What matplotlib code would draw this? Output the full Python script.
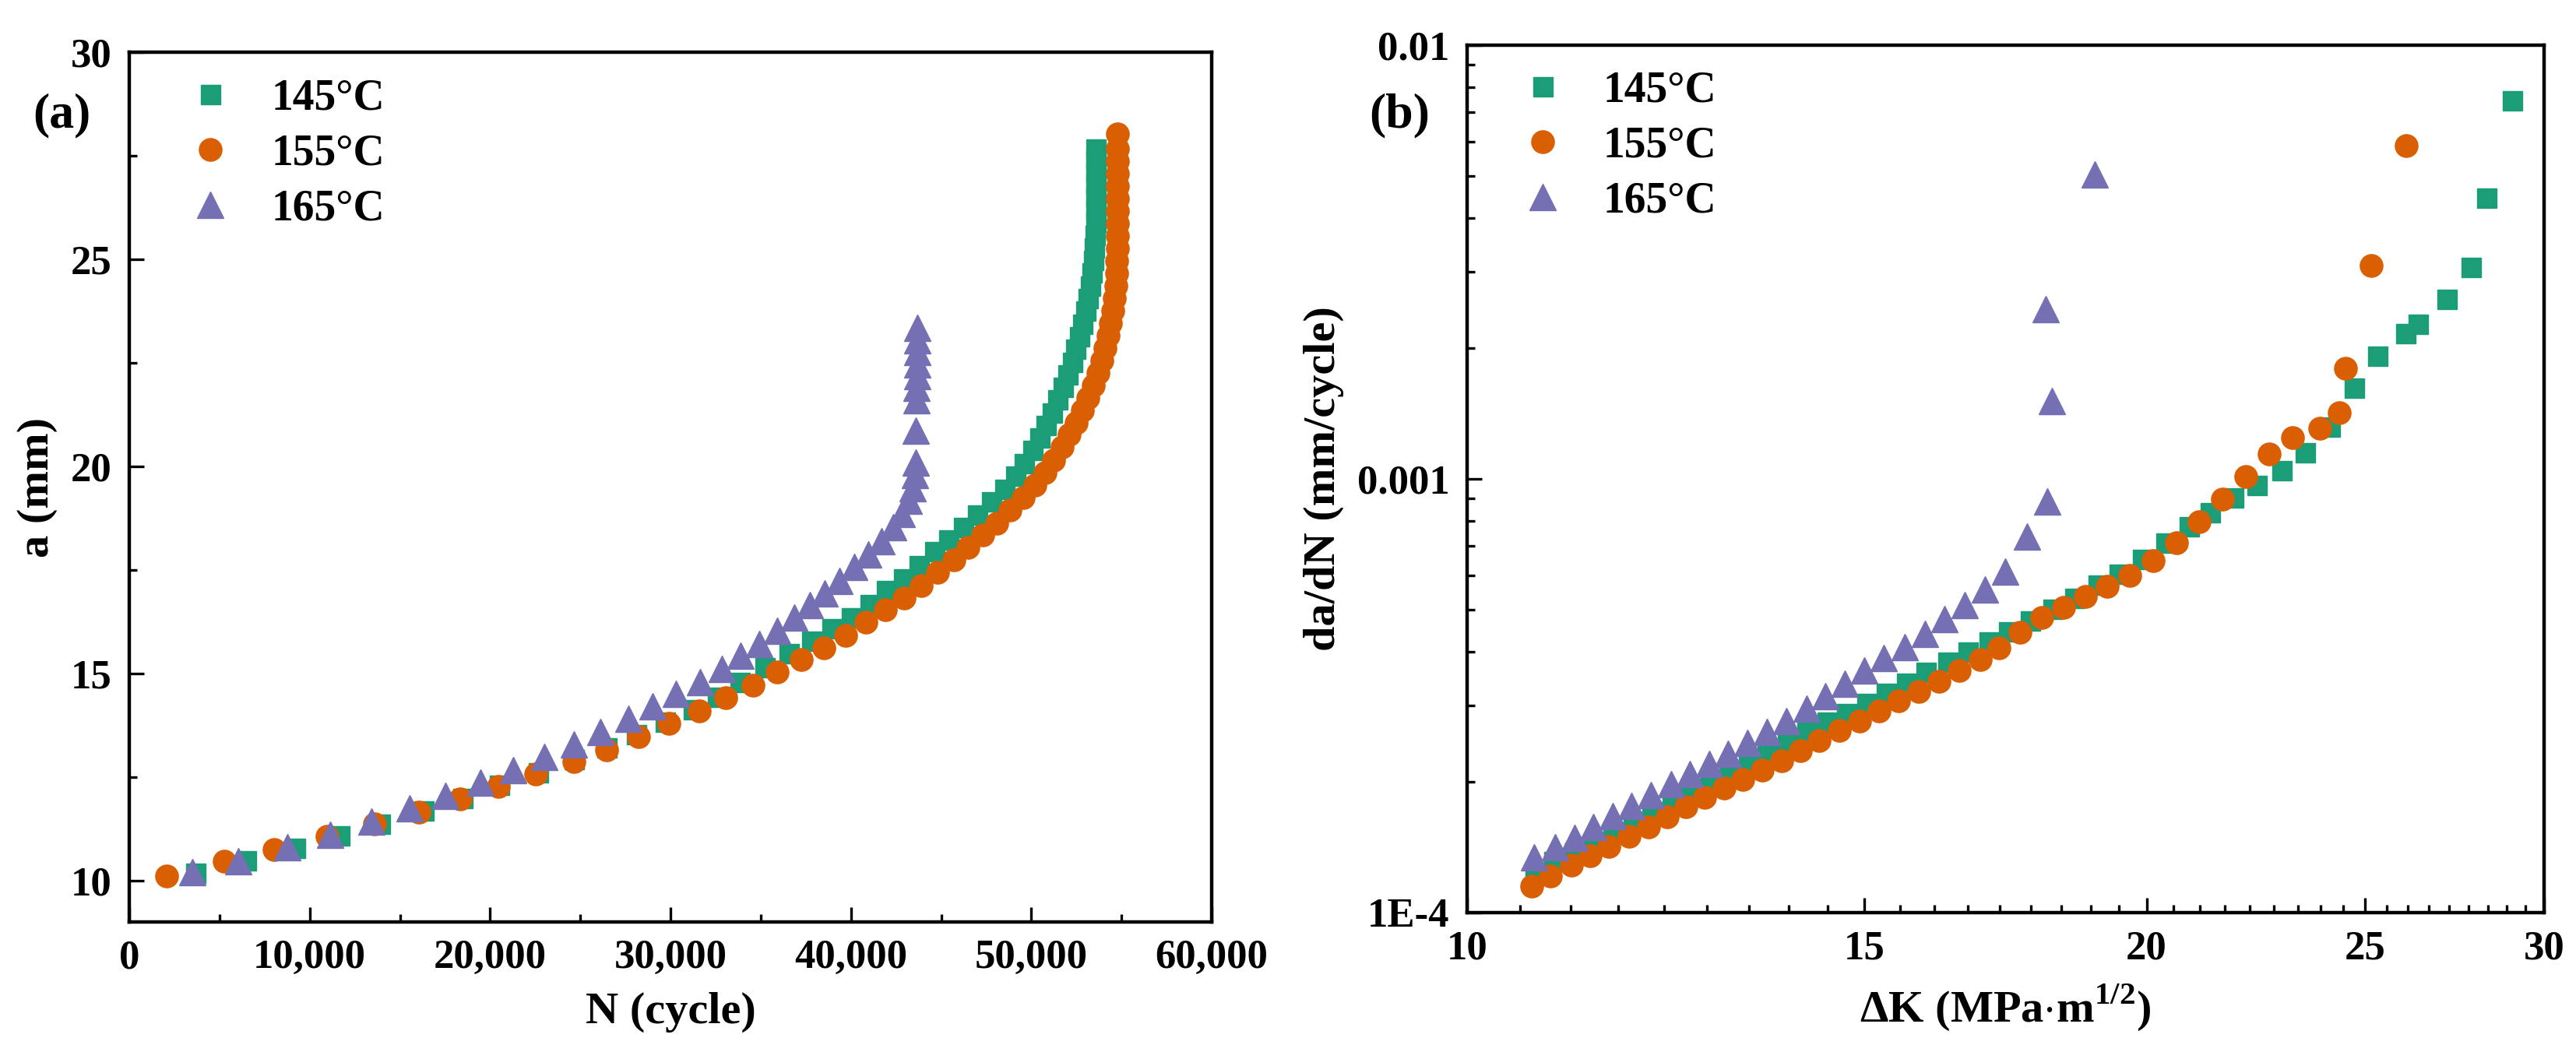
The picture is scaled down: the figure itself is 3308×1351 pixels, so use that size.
import numpy as np
import matplotlib
matplotlib.use("Agg")
import matplotlib.pyplot as plt
from matplotlib.ticker import FixedLocator, FixedFormatter, NullFormatter, MultipleLocator, FuncFormatter

plt.rcParams["font.family"] = ["Liberation Serif", "DejaVu Serif"]
plt.rcParams["font.weight"] = "bold"
plt.rcParams["mathtext.fontset"] = "custom"
plt.rcParams["mathtext.rm"] = "Liberation Serif:bold"
plt.rcParams["mathtext.bf"] = "Liberation Serif:bold"

# ── colours / series names ───────────────────────────────────────────────────
GREEN, ORANGE, PURPLE = "#1B9E77", "#D95F02", "#7570B3"
LABELS = ["145\u00b0C", "155\u00b0C", "165\u00b0C"]

# ── (a) crack length a vs cycles N ──────────────────────────────────────────
N_145 = [3670, 6480, 9200, 11660, 13900, 16320, 18480, 20510, 22660, 24650,
         26460, 28100, 29700, 31260, 32600, 33850, 35230, 36570, 37820, 38940,
         40020, 41050, 41960, 42910, 43770, 44640, 45420, 46230, 47010, 47790,
         48520, 49100, 49600, 50050, 50450, 50800, 51150, 51450, 51750, 52000,
         52250, 52450, 52650, 52850, 53000, 53150, 53270, 53360, 53430, 53480,
         53520, 53550, 53560, 53570, 53570, 53570, 53570, 53570]
a_145 = [10.18, 10.48, 10.79, 11.09, 11.37, 11.69, 11.99, 12.31, 12.61, 12.93,
         13.21, 13.53, 13.83, 14.13, 14.44, 14.80, 15.14, 15.48, 15.78, 16.08,
         16.36, 16.68, 17.00, 17.30, 17.62, 17.94, 18.24, 18.54, 18.84, 19.16,
         19.46, 19.78, 20.08, 20.40, 20.70, 21.00, 21.30, 21.62, 21.92, 22.22,
         22.52, 22.84, 23.14, 23.44, 23.76, 24.06, 24.36, 24.68, 24.98, 25.28,
         25.58, 25.90, 26.20, 26.50, 26.80, 27.10, 27.40, 27.67]

N_155 = [2070, 5270, 8030, 10960, 13600, 16060, 18350, 20460, 22530, 24650,
         26460, 28230, 29920, 31600, 33070, 34580, 35920, 37260, 38510, 39720,
         40840, 41920, 42950, 43900, 44810, 45720, 46500, 47310, 48090, 48830,
         49550, 50200, 50750, 51250, 51700, 52100, 52500, 52850, 53150, 53450,
         53700, 53900, 54100, 54250, 54400, 54520, 54620, 54680, 54720, 54750,
         54770, 54780, 54780, 54780, 54780, 54780, 54780, 54780, 54780, 54780]
a_155 = [10.11, 10.47, 10.75, 11.07, 11.37, 11.65, 11.97, 12.27, 12.57, 12.87,
         13.15, 13.47, 13.79, 14.10, 14.41, 14.71, 15.03, 15.33, 15.62, 15.92,
         16.24, 16.54, 16.82, 17.12, 17.44, 17.74, 18.04, 18.34, 18.62, 18.94,
         19.24, 19.55, 19.85, 20.15, 20.46, 20.76, 21.06, 21.36, 21.66, 21.96,
         22.26, 22.56, 22.86, 23.16, 23.46, 23.76, 24.06, 24.36, 24.66, 24.96,
         25.26, 25.56, 25.86, 26.16, 26.46, 26.76, 27.06, 27.36, 27.66, 28.02]

N_165 = [3500, 6040, 8760, 11140, 13430, 15540, 17530, 19470, 21280, 23010,
         24650, 26120, 27670, 29010, 30310, 31650, 32830, 33900, 34920, 35920,
         36870, 37730, 38550, 39370, 40190, 40970, 41700, 42350, 42830, 43210,
         43430, 43560, 43600, 43600, 43640, 43650, 43660, 43670, 43680, 43680,
         43680]
a_165 = [10.20, 10.47, 10.80, 11.11, 11.42, 11.74, 12.05, 12.36, 12.67, 12.98,
         13.29, 13.59, 13.91, 14.21, 14.51, 14.80, 15.11, 15.43, 15.71, 16.03,
         16.35, 16.65, 16.93, 17.23, 17.57, 17.87, 18.19, 18.53, 18.85, 19.17,
         19.47, 19.79, 20.10, 20.86, 21.60, 21.89, 22.18, 22.47, 22.76, 23.05,
         23.34]

# ── (b) da/dN vs ΔK ─────────────────────────────────────────────────────────
dK_145 = [10.72, 10.92, 11.16, 11.37, 11.60, 11.84, 12.07, 12.32, 12.55, 12.80,
          13.06, 13.32, 13.58, 13.86, 14.14, 14.44, 14.72, 15.03, 15.33, 15.65,
          15.97, 16.32, 16.67, 17.03, 17.37, 17.76, 18.18, 18.58, 19.03, 19.45,
          19.92, 20.40, 20.88, 21.34, 21.85, 22.37, 22.96, 23.51, 24.12, 24.71,
          25.32, 26.04, 26.37, 27.16, 27.85, 28.29, 29.04]
v_145 = [1.241e-4, 1.313e-4, 1.381e-4, 1.458e-4, 1.537e-4, 1.622e-4, 1.711e-4,
         1.805e-4, 1.905e-4, 2.009e-4, 2.120e-4, 2.236e-4, 2.349e-4, 2.469e-4,
         2.605e-4, 2.749e-4, 2.878e-4, 3.035e-4, 3.203e-4, 3.390e-4, 3.581e-4,
         3.790e-4, 3.998e-4, 4.218e-4, 4.449e-4, 4.72e-4, 5.01e-4, 5.32e-4,
         5.69e-4, 6.05e-4, 6.53e-4, 7.12e-4, 7.76e-4, 8.38e-4, 9.05e-4, 9.69e-4,
         1.047e-3, 1.150e-3, 1.319e-3, 1.62e-3, 1.92e-3, 2.17e-3, 2.28e-3,
         2.60e-3, 3.08e-3, 4.45e-3, 7.47e-3]

dK_155 = [10.68, 10.89, 11.12, 11.34, 11.56, 11.80, 12.03, 12.27, 12.50, 12.74,
          13.00, 13.25, 13.51, 13.78, 14.05, 14.32, 14.62, 14.92, 15.22, 15.53,
          15.85, 16.18, 16.52, 16.88, 17.21, 17.58, 17.97, 18.38, 18.79, 19.22,
          19.66, 20.14, 20.62, 21.10, 21.61, 22.13, 22.67, 23.22, 23.86, 24.35,
          24.49, 25.15, 26.07]
v_155 = [1.149e-4, 1.216e-4, 1.285e-4, 1.354e-4, 1.423e-4, 1.497e-4, 1.578e-4,
         1.665e-4, 1.751e-4, 1.847e-4, 1.934e-4, 2.025e-4, 2.135e-4, 2.243e-4,
         2.359e-4, 2.488e-4, 2.626e-4, 2.770e-4, 2.922e-4, 3.073e-4, 3.237e-4,
         3.420e-4, 3.621e-4, 3.832e-4, 4.073e-4, 4.42e-4, 4.80e-4, 5.05e-4,
         5.36e-4, 5.65e-4, 6.00e-4, 6.48e-4, 7.12e-4, 7.96e-4, 8.97e-4,
         1.011e-3, 1.141e-3, 1.243e-3, 1.308e-3, 1.420e-3, 1.796e-3, 3.10e-3,
         5.86e-3]

dK_165 = [10.71, 10.94, 11.16, 11.37, 11.60, 11.83, 12.06, 12.31, 12.55, 12.80,
          13.05, 13.31, 13.58, 13.85, 14.14, 14.41, 14.70, 15.00, 15.30, 15.63,
          15.95, 16.27, 16.61, 16.96, 17.32, 17.70, 18.08, 18.16, 18.05, 18.97]
v_165 = [1.339e-4, 1.414e-4, 1.490e-4, 1.578e-4, 1.667e-4, 1.765e-4, 1.866e-4,
         1.978e-4, 2.087e-4, 2.201e-4, 2.323e-4, 2.458e-4, 2.605e-4, 2.770e-4,
         2.954e-4, 3.155e-4, 3.369e-4, 3.621e-4, 3.868e-4, 4.091e-4, 4.397e-4,
         4.747e-4, 5.122e-4, 5.554e-4, 6.116e-4, 7.36e-4, 8.86e-4, 1.513e-3,
         2.466e-3, 5.04e-3]

# ── figure ───────────────────────────────────────────────────────────────────
fig = plt.figure(figsize=(33.08, 13.51), dpi=100, facecolor="white")
ax1 = fig.add_axes([0.0502, 0.1236, 0.4202, 0.8268])
ax2 = fig.add_axes([0.5695, 0.1325, 0.4181, 0.8246])

TICK_FS = 38
LABEL_FS = 42
LEG_FS = 40


def style_ax(ax):
    for side, sp in ax.spines.items():
        sp.set_linewidth(3.2)
    ax.tick_params(which="both", direction="in", top=False, right=False,
                   width=2.4, labelsize=TICK_FS, pad=16)
    ax.tick_params(which="major", length=14)
    ax.tick_params(which="minor", length=7)


def draw_series(ax, xs, ys, anchor):
    ax.plot(xs[0], ys[0], ls="none", marker="s", ms=18, color=GREEN,
            mec=GREEN, label=LABELS[0], zorder=3)
    ax.plot(xs[1], ys[1], ls="none", marker="o", ms=21, color=ORANGE,
            mec=ORANGE, label=LABELS[1], zorder=4)
    ax.plot(xs[2], ys[2], ls="none", marker="^", ms=25, color=PURPLE,
            mec=PURPLE, label=LABELS[2], zorder=5)
    ax.legend(loc="upper left", bbox_to_anchor=anchor, frameon=False,
              fontsize=LEG_FS, handlelength=1.0, handletextpad=0.9,
              labelspacing=0.34, borderpad=0, borderaxespad=0)


# ── (a) ─────────────────────────────────────────────────────────────────────
style_ax(ax1)
draw_series(ax1, [N_145, N_155, N_165], [a_145, a_155, a_165], (0.055, 0.970))
ax1.set_xlim(0, 60000)
ax1.set_ylim(9, 30)
ax1.xaxis.set_major_locator(MultipleLocator(10000))
ax1.xaxis.set_minor_locator(MultipleLocator(5000))
ax1.yaxis.set_major_locator(MultipleLocator(5))
ax1.yaxis.set_minor_locator(MultipleLocator(2.5))
ax1.xaxis.set_major_formatter(FuncFormatter(lambda v, p: f"{int(v):,}"))
ax1.set_xlabel("N (cycle)", fontsize=LABEL_FS, fontweight="bold", labelpad=14)
ax1.set_ylabel("a (mm)", fontsize=LABEL_FS, fontweight="bold", labelpad=12)
ax1.text(-0.0626, 0.9275, "(a)", transform=ax1.transAxes, fontsize=46,
         fontweight="bold", ha="center", va="center")

# ── (b) ─────────────────────────────────────────────────────────────────────
style_ax(ax2)
draw_series(ax2, [dK_145, dK_155, dK_165], [v_145, v_155, v_165], (0.050, 0.971))
ax2.set_xscale("log")
ax2.set_yscale("log")
ax2.set_xlim(10, 30)
ax2.set_ylim(1e-4, 1e-2)
ax2.xaxis.set_major_locator(FixedLocator([10, 15, 20, 25, 30]))
ax2.xaxis.set_major_formatter(FixedFormatter(["10", "15", "20", "25", "30"]))
ax2.xaxis.set_minor_locator(FixedLocator(
    [s + 5 * k / 9 for s in (10, 15, 20, 25) for k in range(1, 9)]))
ax2.xaxis.set_minor_formatter(NullFormatter())
ax2.yaxis.set_major_locator(FixedLocator([1e-4, 1e-3, 1e-2]))
ax2.yaxis.set_major_formatter(FixedFormatter(["1E-4", "0.001", "0.01"]))
ax2.yaxis.set_minor_locator(FixedLocator(
    [m * 10.0 ** e for e in (-4, -3) for m in range(2, 10)]))
ax2.yaxis.set_minor_formatter(NullFormatter())
ax2.set_xlabel(r"$\Delta$K (MPa$\cdot$m$^{1/2}$)", fontsize=LABEL_FS,
               fontweight="bold", labelpad=14)
ax2.set_ylabel("da/dN (mm/cycle)", fontsize=LABEL_FS, fontweight="bold",
               labelpad=12)
ax2.text(-0.063, 0.919, "(b)", transform=ax2.transAxes, fontsize=46,
         fontweight="bold", ha="center", va="center")

fig.savefig("out.png", dpi=100, facecolor="white")
